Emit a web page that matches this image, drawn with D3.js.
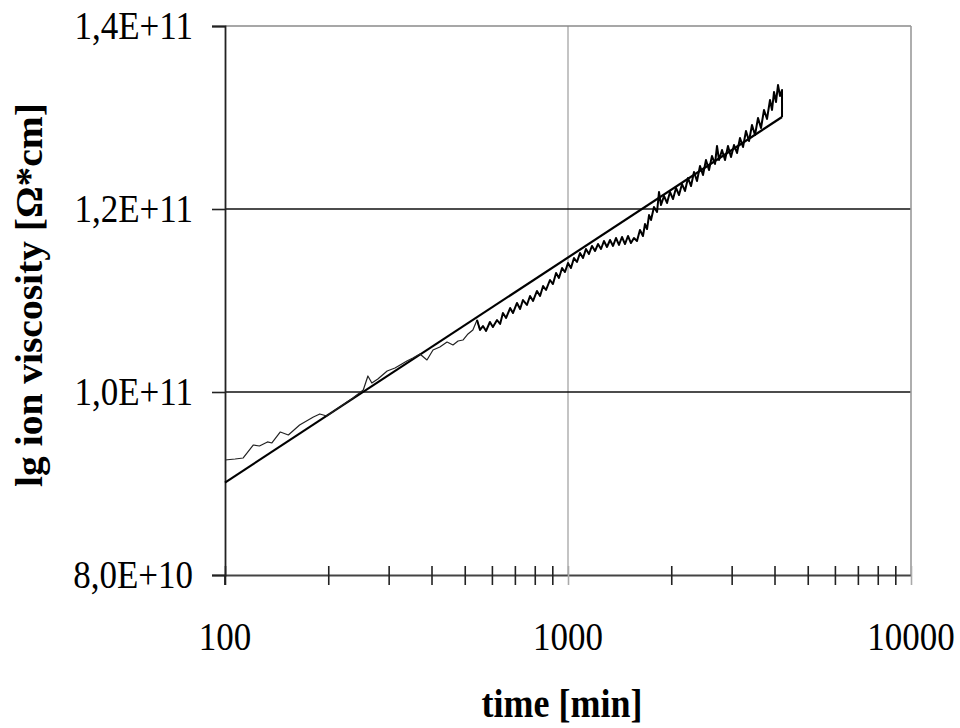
<!DOCTYPE html>
<html>
<head>
<meta charset="utf-8">
<script src="https://cdn.jsdelivr.net/npm/d3@7"></script>
<style>
  body { margin: 0; background: #fff; }
  text { font-family: "Liberation Serif", "Times New Roman", serif; fill: #000; }
</style>
</head>
<body>
<svg></svg>
<script>
// measured ion viscosity, time in min, values in units of 1e10 Ohm*cm
var times = [100,107,113,121,126,133,137,145,153,165,
  181,189,198,216,236,253,261,268,279,297,
  313,324,339,353,370,388,404,423,444,462,
  478,494,511,528,543,
  554,565,577,592,604,621,634,646,660,678,
  691,710,725,739,759,775,791,812,829,846,
  863,886,904,923,941,961,980,1000,1020,1041,
  1062,1084,1106,1128,1151,1175,1199,1223,1248,1273,
  1299,1326,1353,1380,1408,1437,1466,1496,1526,1557,
  1589,1621,1654,1677,1700,1723,1746,1781,1818,1842,
  1867,1905,1944,1983,2024,2065,2107,2150,2193,2238,
  2284,2330,2377,2426,2475,2525,2577,2629,2683,2719,
  2756,2812,2869,2927,2987,3048,3110,3173,3238,3303,
  3371,3439,3509,3581,3653,3728,3804,3881,3934,3987,
  4040,4095,4151,4207,4207];
var viscosity = [9.257,9.268,9.279,9.421,9.410,9.454,9.443,9.563,9.530,9.639,
  9.727,9.760,9.738,9.836,9.934,10.022,10.175,10.098,10.142,10.230,
  10.262,10.295,10.339,10.372,10.415,10.350,10.459,10.492,10.546,10.514,
  10.557,10.568,10.634,10.678,10.787,
  10.678,10.721,10.667,10.765,10.710,10.787,10.743,10.863,10.809,10.918,
  10.863,10.973,10.907,11.005,10.951,11.049,10.995,11.104,11.049,11.158,
  11.115,11.224,11.180,11.301,11.246,11.355,11.311,11.410,11.355,11.464,
  11.421,11.519,11.464,11.563,11.508,11.596,11.541,11.617,11.563,11.650,
  11.585,11.661,11.596,11.683,11.607,11.694,11.617,11.705,11.628,11.683,
  11.650,11.770,11.705,11.836,11.781,11.934,11.880,12.022,11.967,12.186,
  12.044,12.142,12.066,12.186,12.109,12.230,12.153,12.273,12.197,12.339,
  12.251,12.404,12.306,12.470,12.372,12.536,12.426,12.579,12.492,12.689,
  12.536,12.645,12.536,12.689,12.568,12.699,12.612,12.776,12.678,12.852,
  12.743,12.918,12.809,12.995,12.885,13.082,12.984,13.191,13.082,13.279,
  13.169,13.355,13.235,13.301,13.005];

// straight fit in log(time)
var fitTimes = [100, 4207];
var fitValues = [9.01, 13.005];

var xTicks = [100, 1000, 10000];
var xMinorTicks = [200,300,400,500,600,700,800,900,2000,3000,4000,5000,6000,7000,8000,9000];
var yTicks = [8e10, 1e11, 1.2e11, 1.4e11];

var width = 960, height = 728;
var plotLeft = 225, plotRight = 911, plotTop = 26, plotBottom = 575;

var svg = d3.select("svg").attr("width", width).attr("height", height);
svg.append("rect").attr("width", width).attr("height", height).attr("fill", "#fff");

var x = d3.scaleLog().domain([100, 10000]).range([plotLeft, plotRight]);
var y = d3.scaleLinear().domain([8e10, 1.4e11]).range([plotBottom, plotTop]);

function fmt(v) {
  var e = Math.floor(Math.log10(v) + 1e-9);
  var m = v / Math.pow(10, e);
  return m.toFixed(1).replace(".", ",") + "E+" + e;
}

// grid + frame
var grid = svg.append("g");
grid.append("line")
  .attr("x1", x(1000)).attr("x2", x(1000)).attr("y1", plotTop).attr("y2", plotBottom)
  .attr("stroke", "#c4c4c4").attr("stroke-width", 2);
grid.selectAll("line.h")
  .data(yTicks.filter(d => d > 8e10 && d < 1.4e11))
  .enter().append("line").attr("class", "h")
  .attr("x1", plotLeft).attr("x2", plotRight)
  .attr("y1", d => y(d)).attr("y2", d => y(d))
  .attr("stroke", "#111").attr("stroke-width", 1.6);
grid.append("line")
  .attr("x1", plotLeft).attr("x2", plotRight).attr("y1", y(1.4e11)).attr("y2", y(1.4e11))
  .attr("stroke", "#8a8a8a").attr("stroke-width", 1.6);
grid.append("line")
  .attr("x1", plotRight).attr("x2", plotRight).attr("y1", plotTop).attr("y2", plotBottom)
  .attr("stroke", "#9a9a9a").attr("stroke-width", 1.6);

// x axis
var xAxis = d3.axisBottom(x).tickValues(xMinorTicks.concat(xTicks)).tickSize(0).tickFormat("");
var xg = svg.append("g").attr("transform", "translate(0," + plotBottom + ")").call(xAxis);
xg.select(".domain").attr("stroke", "#444").attr("stroke-width", 1.8);
xg.selectAll(".tick line").remove();
xg.selectAll(".tick").append("line")
  .attr("y1", -9).attr("y2", 10)
  .attr("stroke", d => (d === 1000 || d === 10000) ? "#aaa" : "#222")
  .attr("stroke-width", 1.6);
svg.append("g").selectAll("text")
  .data(xTicks).enter().append("text")
  .attr("transform", d => "translate(" + x(d) + ",650) scale(1,1.14)")
  .attr("text-anchor", "middle")
  .attr("font-size", 35)
  .text(d => d);

// y axis
var yAxis = d3.axisLeft(y).tickValues(yTicks).tickSize(13).tickFormat("");
var yg = svg.append("g").attr("transform", "translate(" + plotLeft + ",0)").call(yAxis);
yg.select(".domain").attr("stroke", "#222").attr("stroke-width", 1.8);
yg.selectAll(".tick line").attr("stroke", "#222").attr("stroke-width", 1.6);
// extend y axis below x axis
svg.append("line").attr("x1", plotLeft).attr("x2", plotLeft).attr("y1", plotBottom).attr("y2", plotBottom + 10)
  .attr("stroke", "#222").attr("stroke-width", 1.8);
svg.append("g").selectAll("text")
  .data(yTicks).enter().append("text")
  .attr("transform", d => "translate(193," + (y(d) + 13) + ") scale(1,1.14)")
  .attr("text-anchor", "end")
  .attr("font-size", 35)
  .text(d => fmt(d));

// titles
svg.append("text")
  .attr("transform", "translate(562,717) scale(1,1.12)")
  .attr("text-anchor", "middle")
  .attr("font-size", 36).attr("font-weight", "bold")
  .text("time [min]");
svg.append("text")
  .attr("transform", "translate(42,295) rotate(-90) scale(1.04,1)")
  .attr("text-anchor", "middle")
  .attr("font-size", 38).attr("font-weight", "bold")
  .text("lg ion viscosity [Ω*cm]");

// series
var data = times.map((t, i) => ({t: t, v: viscosity[i] * 1e10}));
var fit = fitTimes.map((t, i) => ({t: t, v: fitValues[i] * 1e10}));
var line = d3.line().x(d => x(d.t)).y(d => y(d.v));

svg.append("path").datum(fit)
  .attr("d", line).attr("fill", "none")
  .attr("stroke", "#000").attr("stroke-width", 2.2);
// early part of the record is thin, the noisy later part reads as a heavier band
svg.append("path").datum(data.filter(d => d.t <= 554))
  .attr("d", line).attr("fill", "none")
  .attr("stroke", "#222").attr("stroke-width", 1.2)
  .attr("stroke-linejoin", "round");
svg.append("path").datum(data.filter(d => d.t >= 543))
  .attr("d", line).attr("fill", "none")
  .attr("stroke", "#000").attr("stroke-width", 2)
  .attr("stroke-linejoin", "round");
</script>
</body>
</html>
